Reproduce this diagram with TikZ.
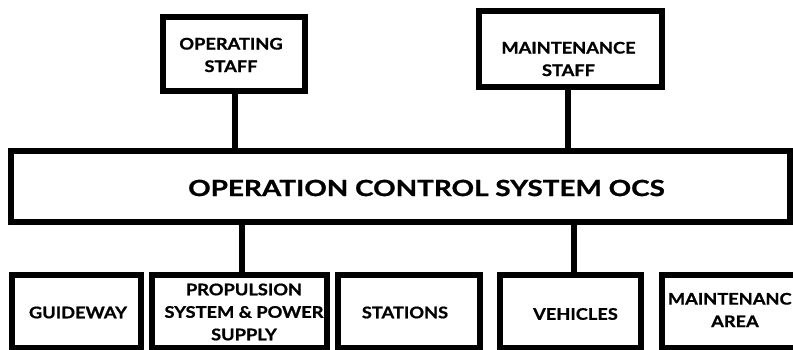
\documentclass[tikz,border=0pt]{standalone}
\usepackage{fontspec}
\setmainfont{Lato}
\newfontfamily\smallboxfont{Lato}[FakeStretch=1.14,BoldFeatures={FakeBold=1}]
\newfontfamily\bigboxfont{Lato}[FakeStretch=1.25,BoldFeatures={FakeBold=1}]
\usetikzlibrary{calc}
\begin{document}
\begin{tikzpicture}[x=1pt,y=-1pt,
  box/.style={draw=black,line width=6pt,fill=white,inner sep=0pt,outer sep=0pt,rectangle},
  conn/.style={draw=black,line width=6pt},
  txt/.style={font=\smallboxfont\fontsize{16}{22.5}\selectfont\bfseries,align=center,inner sep=0pt},
  bigtxt/.style={font=\bigboxfont\fontsize{22.3}{26}\selectfont\bfseries,inner sep=0pt}]
\clip (0,0) rectangle (793,350);
\fill[white] (0,0) rectangle (793,350);
\coordinate (c1) at (235,94);
\coordinate (c2) at (568,90);
\coordinate (c3) at (242,225);
\coordinate (c4) at (574,225);
% boxes
\node[box,minimum width=142pt,minimum height=74pt] (ops) at (234,54) {};
\node[box,minimum width=183pt,minimum height=76pt] (ms) at (570.5,49) {};
\node[box,minimum width=779pt,minimum height=71pt] (ocs) at (400.5,186.5) {};
\node[box,minimum width=129pt,minimum height=73pt] (gw) at (76.5,311.5) {};
\node[box,minimum width=175pt,minimum height=73pt] (prop) at (239.5,311.5) {};
\node[box,minimum width=142pt,minimum height=73pt] (st) at (409,311.5) {};
\node[box,minimum width=141pt,minimum height=73pt] (veh) at (570.5,311.5) {};
\node[box,minimum width=146pt,minimum height=73pt] (ma) at (735,311.5) {};
% connectors
\draw[conn] (c1 |- ops.south) -- (c1 |- ocs.north);
\draw[conn] (c2 |- ms.south) -- (c2 |- ocs.north);
\draw[conn] (c3 |- ocs.south) -- (c3 |- prop.north);
\draw[conn] (c4 |- ocs.south) -- (c4 |- veh.north);
% texts
\node[txt] (opst) at (231,55) {OPERATING\\STAFF};
\node[txt] (mst) at (568.5,59) {MAINTENANCE\\STAFF};
\node[bigtxt] (ocst) at (426.5,188) {OPERATION CONTROL SYSTEM OCS};
\node[txt] (gwt) at (78,312.5) {GUIDEWAY};
\node[txt] (propt) at (244,312) {PROPULSION\\SYSTEM \& POWER\\SUPPLY};
\node[txt] (stt) at (405,312.5) {STATIONS};
\node[txt] (veht) at (575.5,314) {VEHICLES};
\node[txt] (mat) at (735,310) {MAINTENANCE\\AREA};
\end{tikzpicture}
\end{document}
